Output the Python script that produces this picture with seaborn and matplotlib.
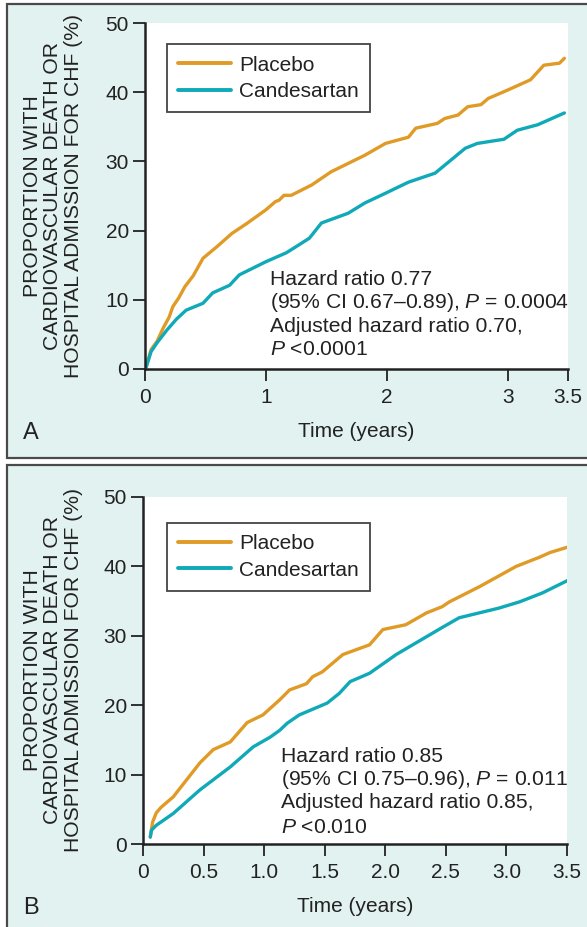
import matplotlib
matplotlib.use("Agg")
import matplotlib.pyplot as plt
import seaborn as sns
import pandas as pd
from matplotlib.patches import Rectangle
from matplotlib.lines import Line2D

sns.set_theme(style="ticks")
plt.rcParams['font.family'] = ['Liberation Sans', 'DejaVu Sans']
plt.rcParams['mathtext.fontset'] = 'custom'
plt.rcParams['mathtext.rm'] = 'Liberation Sans'
plt.rcParams['mathtext.it'] = 'Liberation Sans:italic'

# ---------------- data ----------------
# Panel A
a_placebo_t = [0.01, 0.05, 0.10, 0.15, 0.20, 0.23, 0.28, 0.33, 0.40, 0.48, 0.59, 0.72, 0.84, 1.0, 1.08,
               1.11, 1.15, 1.21, 1.38, 1.54, 1.82, 1.99, 2.18, 2.24, 2.42, 2.48, 2.59, 2.67, 2.78,
               2.84, 3.0, 3.19, 3.30, 3.43, 3.47]
a_placebo_v = [0.3, 2.8, 4.0, 5.9, 7.5, 9.0, 10.3, 11.9, 13.5, 16.0, 17.6, 19.6, 21.0, 23.0, 24.2,
               24.4, 25.1, 25.1, 26.6, 28.5, 30.9, 32.6, 33.5, 34.8, 35.5, 36.2, 36.7, 37.9, 38.2,
               39.1, 40.3, 41.8, 43.9, 44.2, 44.9]
a_cand_t = [0.01, 0.05, 0.10, 0.18, 0.26, 0.34, 0.48, 0.56, 0.70, 0.78, 1.0, 1.17, 1.27, 1.36, 1.46,
            1.68, 1.82, 1.99, 2.18, 2.40, 2.65, 2.75, 2.97, 3.08, 3.25, 3.47]
a_cand_v = [0.3, 2.5, 3.8, 5.6, 7.2, 8.5, 9.5, 11.0, 12.1, 13.6, 15.5, 16.8, 17.9, 18.9, 21.1,
            22.5, 24.0, 25.4, 27.0, 28.3, 31.9, 32.6, 33.2, 34.5, 35.3, 37.0]
# Panel B
b_placebo_t = [0.06, 0.08, 0.11, 0.15, 0.25, 0.47, 0.58, 0.72, 0.86, 0.99, 1.13, 1.21, 1.35, 1.40, 1.48,
               1.65, 1.76, 1.87, 1.98, 2.17, 2.34, 2.47, 2.53, 2.78, 3.08, 3.27, 3.36, 3.51]
b_placebo_v = [1.0, 3.2, 4.5, 5.3, 6.8, 11.7, 13.6, 14.7, 17.5, 18.6, 20.8, 22.2, 23.1, 24.1, 24.8,
               27.3, 28.0, 28.7, 30.9, 31.6, 33.3, 34.2, 34.9, 37.1, 40.0, 41.3, 42.0, 42.8]
b_cand_t = [0.06, 0.07, 0.11, 0.25, 0.47, 0.72, 0.91, 1.05, 1.13, 1.19, 1.29, 1.52, 1.62, 1.71, 1.87,
            2.09, 2.47, 2.61, 2.94, 3.11, 3.30, 3.52]
b_cand_v = [1.0, 2.0, 2.7, 4.4, 7.8, 11.1, 14.0, 15.4, 16.4, 17.4, 18.6, 20.3, 21.7, 23.4, 24.6,
            27.3, 31.2, 32.6, 34.0, 34.9, 36.2, 38.1]

groups = ["Placebo", "Candesartan"]
y_ticks = [0, 10, 20, 30, 40, 50]
a_xticks = [0, 1, 2, 3, 3.5]
a_xticklabels = ["0", "1", "2", "3", "3.5"]
b_xticks = [0, 0.5, 1.0, 1.5, 2.0, 2.5, 3.0, 3.5]
b_xticklabels = ["0", "0.5", "1.0", "1.5", "2.0", "2.5", "3.0", "3.5"]
ylabel = "PROPORTION WITH\nCARDIOVASCULAR DEATH OR\nHOSPITAL ADMISSION FOR CHF (%)"
xlabel = "Time (years)"
a_notes = ["Hazard ratio 0.77", "(95% CI 0.67\u20130.89), $P$ = 0.0004",
           "Adjusted hazard ratio 0.70,", "$P$ <0.0001"]
b_notes = ["Hazard ratio 0.85", "(95% CI 0.75\u20130.96), $P$ = 0.011",
           "Adjusted hazard ratio 0.85,", "$P$ <0.010"]

palette = {"Placebo": "#e09b27", "Candesartan": "#0fa9b8"}
BG = "#e2f2f0"

W, H = 587, 927
fig = plt.figure(figsize=(W / 100, H / 100), dpi=100)
fig.patch.set_facecolor("white")

def px_rect(x0, y0, x1, y1):
    return [x0 / W, 1 - y1 / H, (x1 - x0) / W, (y1 - y0) / H]

# panel backgrounds
for (y0, y1) in [(3.5, 458), (465, 940)]:
    r = Rectangle((7 / W, 1 - y1 / H), (600 - 7) / W, (y1 - y0) / H, transform=fig.transFigure,
                  facecolor=BG, edgecolor="#4a4a4a", linewidth=1.6, zorder=-5)
    fig.patches.append(r)

def make_df(pt, pv, ct, cv):
    return pd.DataFrame({
        "t": list(pt) + list(ct),
        "v": list(pv) + list(cv),
        "g": ["Placebo"] * len(pt) + ["Candesartan"] * len(ct),
    })

panels = [
    dict(rect=px_rect(145, 23, 568, 369), df=make_df(a_placebo_t, a_placebo_v, a_cand_t, a_cand_v),
         xt=a_xticks, xtl=a_xticklabels, notes=a_notes, nx=0.2955,
         nys=[0.2428, 0.1763, 0.1069, 0.0405], leg=(0.052, 0.939), letter="A", ly=433),
    dict(rect=px_rect(143, 497, 567, 844), df=make_df(b_placebo_t, b_placebo_v, b_cand_t, b_cand_v),
         xt=b_xticks, xtl=b_xticklabels, notes=b_notes, nx=0.325,
         nys=[0.2363, 0.170, 0.1037, 0.0317], leg=(0.0566, 0.925), letter="B", ly=908),
]

for p in panels:
    ax = fig.add_axes(p["rect"])
    ax.set_facecolor("white")
    sns.lineplot(data=p["df"], x="t", y="v", hue="g", hue_order=groups, palette=palette,
                 linewidth=2.4, ax=ax, legend=False, estimator=None, sort=True)
    ax.set_xlim(0, 3.5)
    ax.set_ylim(0, 50)
    ax.set_xticks(p["xt"])
    ax.set_xticklabels(p["xtl"])
    ax.set_yticks(y_ticks)
    for s in ["top", "right"]:
        ax.spines[s].set_visible(False)
    for s in ["left", "bottom"]:
        ax.spines[s].set_color("#222222")
        ax.spines[s].set_linewidth(1.8)
    ax.tick_params(axis="both", direction="out", length=8.5, width=1.3, color="#222222",
                   labelsize=15, labelcolor="#222222")
    ax.tick_params(axis="y", pad=3)
    ax.tick_params(axis="x", pad=5)
    ax.set_xlabel(xlabel, fontsize=15, color="#222222", labelpad=11)
    ax.set_ylabel("")
    handles = [Line2D([], [], color=palette[g], linewidth=2.8) for g in groups]
    leg = ax.legend(handles, groups, loc="upper left", bbox_to_anchor=p["leg"], borderaxespad=0,
                    fontsize=15, handlelength=2.5, handletextpad=0.42, labelspacing=0.35,
                    borderpad=0.55, fancybox=False, framealpha=1, edgecolor="#444444")
    leg.get_frame().set_linewidth(1.3)
    for t in leg.get_texts():
        t.set_color("#222222")
    for y, line in zip(p["nys"], p["notes"]):
        ax.text(p["nx"], y, line, transform=ax.transAxes, fontsize=15.2, color="#222222",
                ha="left", va="baseline")
    # y label
    r = p["rect"]
    fig.text(53 / W, r[1] + r[3] / 2, ylabel, rotation=90, ha="center", va="center",
             multialignment="center", fontsize=15.2, color="#222222", linespacing=1.13)
    fig.text(31 / W, 1 - p["ly"] / H, p["letter"], ha="center", va="center", fontsize=17,
             color="#222222")

fig.savefig("out.png", dpi=100)
